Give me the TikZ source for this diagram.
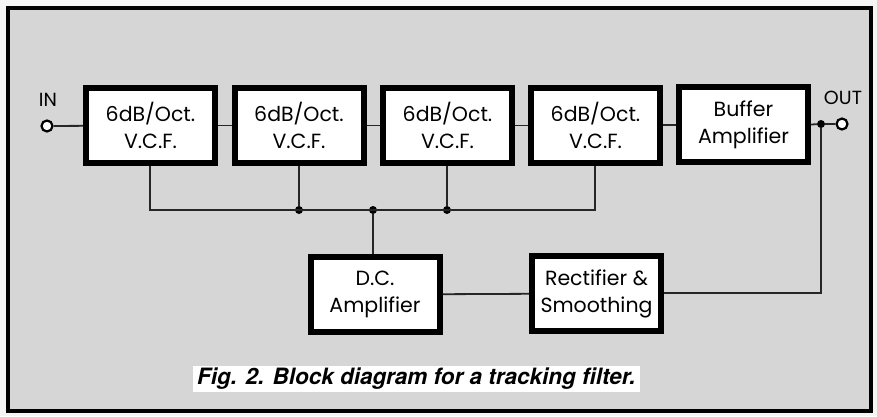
\documentclass[tikz,border=0pt]{standalone}
\usepackage{fontspec}
\setmainfont{Poppins}
\newfontfamily\capfont{TeX Gyre Heros}
\begin{document}
\begin{tikzpicture}[x=1pt,y=-1pt,
  blk/.style={draw=black,line width=6pt,fill=white,minimum width=129pt,minimum height=75pt,inner sep=0pt,align=center,font=\fontsize{20.5}{27}\selectfont},
  wire/.style={line width=1.8pt,draw=black!85},
  dot/.style={circle,fill=black,inner sep=0pt,minimum size=8pt},
  term/.style={circle,draw=black,line width=2.2pt,fill=white,inner sep=0pt,minimum size=11pt},
  lbl/.style={font=\fontsize{19}{22}\selectfont}]
\useasboundingbox (0,0) rectangle (877,416);
\fill[gray!8] (0,0) rectangle (877,416);
\draw[line width=3.5pt,fill=black!16] (8,8) rectangle (871,411);
\node[blk] (v1) at (150.5,125.5) {6dB/Oct.\\V.C.F.};
\node[blk] (v2) at (299,125.5) {6dB/Oct.\\V.C.F.};
\node[blk] (v3) at (447.5,125.5) {6dB/Oct.\\V.C.F.};
\node[blk] (v4) at (595.5,125.5) {6dB/Oct.\\V.C.F.};
\node[blk] (buf) at (743.5,124.5) {Buffer\\Amplifier};
\node[blk] (dc) at (375,294.5) {D.C.\\Amplifier};
\node[blk] (rect) at (596.5,293.5) {Rectifier \&\\Smoothing};
\node[term] (in) at (47,126) {};
\node[term] (out) at (842,124) {};
\node[lbl] (inl) at (48,100) {IN};
\node[lbl] (outl) at (843,98) {OUT};
\coordinate (b1) at (150,210);
\coordinate (b4) at (595,210);
\node[dot] (d2) at (299,210) {};
\node[dot] (d3) at (447,210) {};
\node[dot] (dd) at (373,210) {};
\node[dot] (jo) at (821,124) {};
\coordinate (cr) at (821,293);
\draw[wire] (in) -- (v1);
\draw[wire] (v1) -- (v2);
\draw[wire] (v2) -- (v3);
\draw[wire] (v3) -- (v4);
\draw[wire] (v4) -- (buf);
\draw[wire] (buf.east) -- (jo) -- (out);
\draw[wire] (v1.south -| b1) -- (b1) -- (b4) -- (v4.south -| b4);
\draw[wire] (v2.south) -- (d2);
\draw[wire] (v3.south -| d3) -- (d3);
\draw[wire] (dd) -- (dc.north -| dd);
\draw[wire] (dc) -- (rect);
\draw[wire] (jo) -- (cr) -- (rect.east |- cr);
\node[fill=white,inner xsep=4pt,inner ysep=2pt,font=\capfont\bfseries\itshape\fontsize{22.5}{24}\selectfont,anchor=west] (cap) at (193,379) {Fig. 2. Block diagram for a tracking filter.};
\end{tikzpicture}
\end{document}
